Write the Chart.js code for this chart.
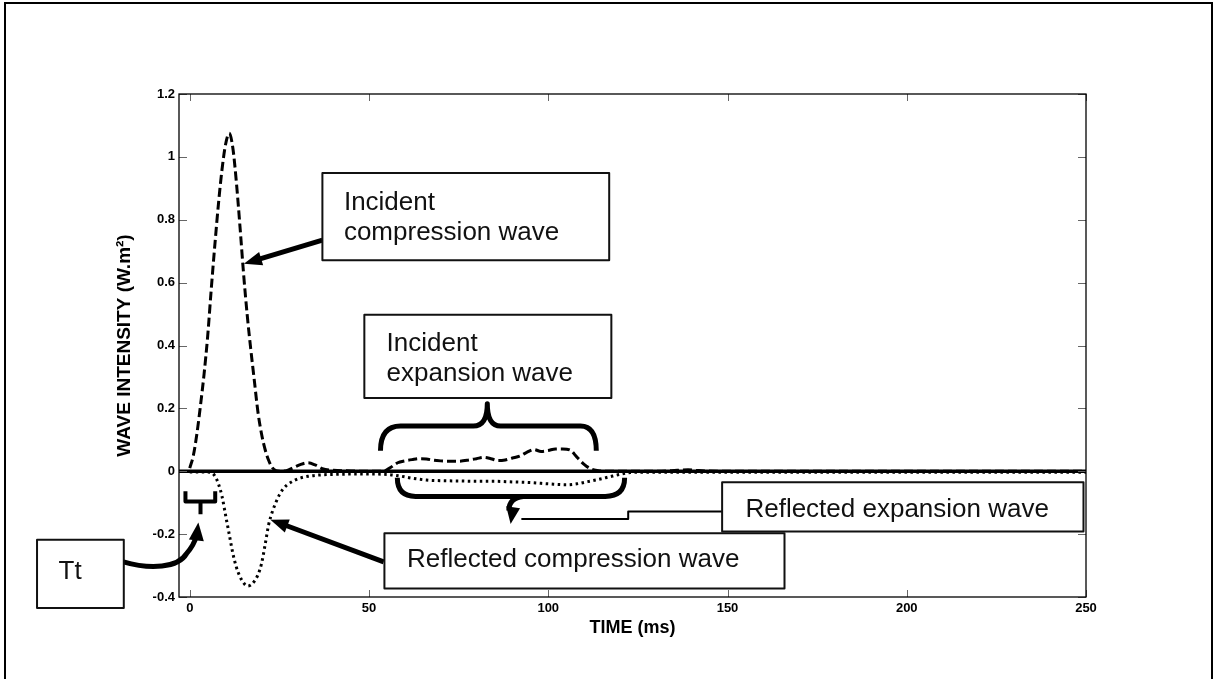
<!DOCTYPE html>
<html>
<head>
<meta charset="utf-8">
<script src="https://cdn.jsdelivr.net/npm/chart.js@4.4.0/dist/chart.umd.min.js"></script>
<style>
  html, body { margin: 0; padding: 0; background: #fff; }
  #wave-canvas { display: block; }
</style>
</head>
<body>
<canvas id="wave-canvas" width="1215" height="679"></canvas>
<script>
const waveCanvas = document.querySelector("#wave-canvas");

// values: time in ms, intensity in W.m^2
const incidentTime = [0, 1, 2, 3, 4, 5, 6, 7, 8, 9, 10, 11, 12, 13, 14, 15, 16, 17, 18, 19, 20, 21, 22, 23, 24, 25, 27, 29, 31, 33, 35, 37, 40, 45, 50, 54, 56, 58, 60, 62, 64, 66, 68, 70, 72, 75, 78, 80, 82, 84, 86, 88, 90, 92, 94, 96, 98, 100, 102, 104, 106, 108, 110, 112, 114, 116, 130, 136, 139, 142, 150, 250];
const incidentIntensity = [0.01, 0.05, 0.12, 0.21, 0.31, 0.43, 0.58, 0.72, 0.85, 0.96, 1.04, 1.075, 1.03, 0.92, 0.78, 0.63, 0.5, 0.39, 0.29, 0.19, 0.12, 0.07, 0.035, 0.012, 0.002, 0, 0.002, 0.012, 0.022, 0.027, 0.02, 0.008, 0.003, 0.001, 0, 0, 0.012, 0.027, 0.033, 0.037, 0.04, 0.039, 0.035, 0.033, 0.032, 0.032, 0.036, 0.04, 0.044, 0.04, 0.034, 0.036, 0.042, 0.048, 0.06, 0.069, 0.063, 0.066, 0.071, 0.071, 0.068, 0.045, 0.022, 0.007, 0.002, 0, 0, 0.003, 0.005, 0.002, 0, 0];

const reflectedTime = [0, 2, 4, 6, 7, 8, 9, 10, 11, 12, 13, 14, 15, 16, 17, 18, 19, 20, 21, 22, 23, 24, 25, 26, 27, 29, 31, 33, 36, 40, 45, 50, 55, 58, 62, 66, 70, 75, 80, 85, 90, 95, 100, 105, 108, 111, 114, 117, 120, 123, 126, 180, 250];
const reflectedIntensity = [-0.002, -0.002, -0.002, -0.004, -0.015, -0.04, -0.08, -0.14, -0.2, -0.26, -0.305, -0.335, -0.355, -0.365, -0.362, -0.35, -0.33, -0.295, -0.235, -0.17, -0.13, -0.1, -0.075, -0.057, -0.045, -0.03, -0.021, -0.016, -0.012, -0.01, -0.009, -0.009, -0.01, -0.014, -0.022, -0.028, -0.03, -0.031, -0.032, -0.032, -0.034, -0.036, -0.04, -0.043, -0.04, -0.033, -0.026, -0.018, -0.01, -0.004, -0.003, -0.003, -0.003];

const baselineTime = [-3, 250];
const baselineIntensity = [0, 0];

const xTickValues = [0, 50, 100, 150, 200, 250];
const yTickValues = [-0.4, -0.2, 0, 0.2, 0.4, 0.6, 0.8, 1, 1.2];

const FONT = '"Liberation Sans", Arial, Helvetica, sans-serif';

function toPoints(xs, ys) {
  return xs.map((x, i) => ({ x: x, y: ys[i] }));
}

function drawHead(ctx, x, y, ang, len, wid) {
  ctx.beginPath();
  ctx.moveTo(x, y);
  ctx.lineTo(x - len * Math.cos(ang) + (wid / 2) * Math.sin(ang), y - len * Math.sin(ang) - (wid / 2) * Math.cos(ang));
  ctx.lineTo(x - len * Math.cos(ang) - (wid / 2) * Math.sin(ang), y - len * Math.sin(ang) + (wid / 2) * Math.cos(ang));
  ctx.closePath();
  ctx.fill();
}

function drawArrow(ctx, x1, y1, x2, y2, width) {
  const ang = Math.atan2(y2 - y1, x2 - x1);
  const len = 18;
  ctx.lineWidth = width;
  ctx.beginPath();
  ctx.moveTo(x1, y1);
  ctx.lineTo(x2 - (len - 2) * Math.cos(ang), y2 - (len - 2) * Math.sin(ang));
  ctx.stroke();
  drawHead(ctx, x2, y2, ang, len, 14);
}

function drawBox(ctx, x1, y1, x2, y2, lines, tx, baselines) {
  ctx.fillStyle = "#fff";
  ctx.fillRect(x1, y1, x2 - x1, y2 - y1);
  ctx.lineWidth = 2;
  ctx.strokeStyle = "#111";
  ctx.strokeRect(x1, y1, x2 - x1, y2 - y1);
  ctx.fillStyle = "#111";
  ctx.font = "26px " + FONT;
  ctx.textAlign = "left";
  ctx.textBaseline = "alphabetic";
  lines.forEach((line, i) => ctx.fillText(line, tx, baselines[i]));
}

// inward ticks + frame, matlab style
const axesFrame = {
  id: "axesFrame",
  afterDatasetsDraw(chart) {
    const ctx = chart.ctx;
    const area = chart.chartArea;
    const xs = chart.scales.x, ys = chart.scales.y;
    ctx.save();
    ctx.strokeStyle = "#666";
    ctx.lineWidth = 1;
    ctx.beginPath();
    xTickValues.forEach((t) => {
      const px = Math.round(xs.getPixelForValue(t)) + 0.5;
      ctx.moveTo(px, area.bottom); ctx.lineTo(px, area.bottom - 7);
      ctx.moveTo(px, area.top); ctx.lineTo(px, area.top + 7);
    });
    yTickValues.forEach((v) => {
      const py = Math.round(ys.getPixelForValue(v)) + 0.5;
      ctx.moveTo(area.left, py); ctx.lineTo(area.left + 8, py);
      ctx.moveTo(area.right, py); ctx.lineTo(area.right - 8, py);
    });
    ctx.stroke();
    ctx.strokeStyle = "#000";
    ctx.lineWidth = 1.3;
    ctx.strokeRect(area.left, area.top, area.right - area.left, area.bottom - area.top);
    // outer figure border
    ctx.lineWidth = 2;
    ctx.strokeRect(5, 3, 1207, 690);
    ctx.restore();
  }
};

const waveNotes = {
  id: "waveNotes",
  afterDraw(chart) {
    const ctx = chart.ctx;
    const xs = chart.scales.x, ys = chart.scales.y;
    const X = (t) => xs.getPixelForValue(t);
    const Y = (v) => ys.getPixelForValue(v);
    ctx.save();
    ctx.strokeStyle = "#000";
    ctx.fillStyle = "#000";
    ctx.lineCap = "butt";
    ctx.lineJoin = "round";

    // arrows to the peaks
    drawArrow(ctx, X(37), Y(0.735), X(15.1), Y(0.66), 5);
    drawArrow(ctx, X(54.1), Y(-0.288), X(22.5), Y(-0.154), 5);

    // brace over incident expansion wave
    ctx.lineWidth = 5;
    ctx.beginPath();
    ctx.moveTo(X(53.2), Y(0.065));
    ctx.quadraticCurveTo(X(53.2), Y(0.144), X(58.8), Y(0.144));
    ctx.lineTo(X(79.1), Y(0.144));
    ctx.quadraticCurveTo(X(83), Y(0.144), X(83), Y(0.215));
    ctx.quadraticCurveTo(X(83), Y(0.144), X(86.7), Y(0.144));
    ctx.lineTo(X(109), Y(0.144));
    ctx.quadraticCurveTo(X(113.4), Y(0.144), X(113.4), Y(0.065));
    ctx.stroke();

    // brace under reflected expansion wave
    ctx.beginPath();
    ctx.moveTo(X(57.9), Y(-0.021));
    ctx.quadraticCurveTo(X(57.9), Y(-0.08), X(63), Y(-0.08));
    ctx.lineTo(X(115.9), Y(-0.08));
    ctx.quadraticCurveTo(X(121.3), Y(-0.08), X(121.3), Y(-0.021));
    ctx.stroke();
    ctx.beginPath();
    ctx.moveTo(X(93), Y(-0.08));
    ctx.quadraticCurveTo(X(89), Y(-0.085), X(89), Y(-0.125));
    ctx.stroke();
    drawHead(ctx, X(89.5), Y(-0.168), Math.PI / 2 + 0.15, 17, 14);

    // connector to the reflected expansion label
    ctx.lineWidth = 2;
    ctx.beginPath();
    ctx.moveTo(X(92.5), Y(-0.152));
    ctx.lineTo(X(122.3), Y(-0.152));
    ctx.lineTo(X(122.3), Y(-0.128));
    ctx.lineTo(X(148.5), Y(-0.128));
    ctx.stroke();

    // Tt bracket and curved arrow
    ctx.lineWidth = 4;
    ctx.beginPath();
    ctx.moveTo(X(-1.2), Y(-0.064));
    ctx.lineTo(X(-1.2), Y(-0.096));
    ctx.lineTo(X(7.1), Y(-0.096));
    ctx.lineTo(X(7.1), Y(-0.064));
    ctx.moveTo(X(3), Y(-0.096));
    ctx.lineTo(X(3), Y(-0.137));
    ctx.stroke();

    ctx.lineWidth = 5;
    ctx.beginPath();
    ctx.moveTo(X(-18.5), Y(-0.288));
    ctx.bezierCurveTo(X(-11), Y(-0.313), X(-3.2), Y(-0.307), X(-0.9), Y(-0.262));
    ctx.quadraticCurveTo(X(1.2), Y(-0.235), X(1.9), Y(-0.205));
    ctx.stroke();
    drawHead(ctx, X(2.4), Y(-0.163), Math.atan2(Y(-0.163) - Y(-0.214), X(2.4) - X(1.9)), 18, 15);

    // label boxes
    drawBox(ctx, X(37), Y(0.949), X(117), Y(0.671), ["Incident", "compression wave"], X(43), [Y(0.831), Y(0.735)]);
    drawBox(ctx, X(48.7), Y(0.498), X(117.6), Y(0.233), ["Incident", "expansion wave"], X(54.9), [Y(0.383), Y(0.288)]);
    drawBox(ctx, X(148.5), Y(-0.035), X(249.3), Y(-0.192), ["Reflected expansion wave"], X(155), [Y(-0.144)]);
    drawBox(ctx, X(54.3), Y(-0.197), X(165.9), Y(-0.373), ["Reflected compression wave"], X(60.6), [Y(-0.304)]);
    drawBox(ctx, X(-42.6), Y(-0.218), X(-18.4), Y(-0.435), ["Tt"], X(-36.6), [Y(-0.342)]);
    ctx.restore();
  }
};

new Chart(waveCanvas, {
  type: "line",
  data: {
    datasets: [
      {
        label: "baseline",
        data: toPoints(baselineTime, baselineIntensity),
        borderColor: "#000",
        borderWidth: 3.5,
        pointRadius: 0,
      },
      {
        label: "incident",
        data: toPoints(incidentTime, incidentIntensity),
        borderColor: "#000",
        borderWidth: 3,
        borderDash: [9, 4],
        pointRadius: 0,
        cubicInterpolationMode: "monotone",
      },
      {
        label: "reflected",
        data: toPoints(reflectedTime, reflectedIntensity),
        borderColor: "#000",
        borderWidth: 3,
        borderDash: [2.5, 3.5],
        pointRadius: 0,
        cubicInterpolationMode: "monotone",
      },
    ],
  },
  options: {
    responsive: false,
    animation: false,
    layout: { padding: { left: 109, top: 94, right: 129, bottom: 36 } },
    plugins: { legend: { display: false }, tooltip: { enabled: false } },
    scales: {
      x: {
        type: "linear",
        min: -3,
        max: 250,
        afterBuildTicks: (scale) => { scale.ticks = xTickValues.map((v) => ({ value: v })); },
        afterFit: (scale) => { scale.height = 46; },
        grid: { display: false, drawTicks: false },
        border: { display: false },
        ticks: { color: "#000", padding: 4, maxRotation: 0, font: { family: FONT, size: 13, weight: "bold" } },
        title: { display: true, text: "TIME (ms)", color: "#000", font: { family: FONT, size: 18, weight: "bold" } },
      },
      y: {
        type: "linear",
        min: -0.4,
        max: 1.2,
        afterBuildTicks: (scale) => { scale.ticks = yTickValues.map((v) => ({ value: v })); },
        afterFit: (scale) => { scale.width = 70; },
        grid: { display: false, drawTicks: false },
        border: { display: false },
        ticks: {
          color: "#000",
          padding: 4,
          font: { family: FONT, size: 13, weight: "bold" },
          callback: (v) => String(Math.round(v * 10) / 10),
        },
        title: { display: true, text: "WAVE INTENSITY (W.m²)", color: "#000", font: { family: FONT, size: 19, weight: "bold" } },
      },
    },
  },
  plugins: [axesFrame, waveNotes],
});
</script>
</body>
</html>
